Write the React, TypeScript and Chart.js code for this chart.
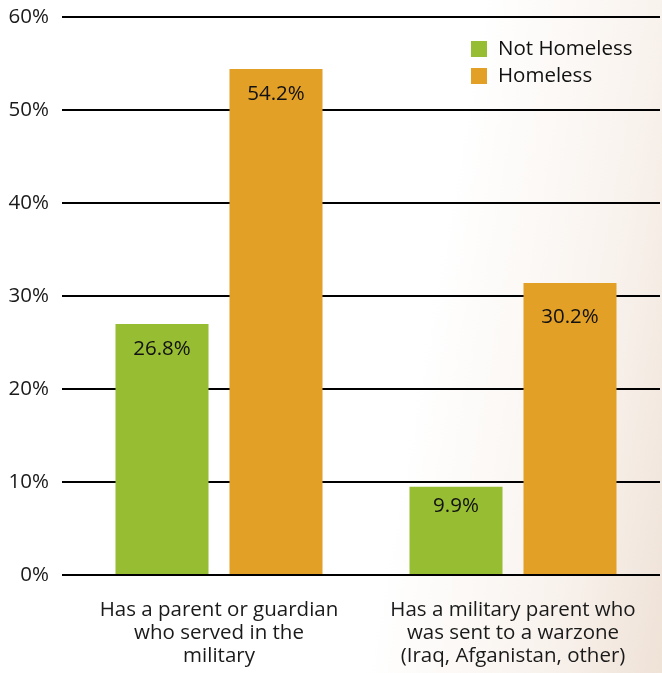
import React, { useEffect, useRef } from "react";
import { Chart, registerables } from "chart.js";

Chart.register(...registerables);

const categories: string[][] = [
  ["Has a parent or guardian", "who served in the", "military"],
  ["Has a military parent who", "was sent to a warzone", "(Iraq, Afganistan, other)"],
];
const seriesNames = ["Not Homeless", "Homeless"];
// bar heights as drawn in the picture
const notHomelessBars = [27.0, 9.5];
const homelessBars = [54.4, 31.4];
// printed value labels
const notHomelessLabels = [26.8, 9.9];
const homelessLabels = [54.2, 30.2];
const yMin = 0;
const yMax = 60;
const yStep = 10;

const GREEN = "#97BD33";
const ORANGE = "#E3A026";
const FONT = "'Open Sans', sans-serif";
const FS = 20.5;

export default function App() {
  const ref = useRef<HTMLCanvasElement | null>(null);

  useEffect(() => {
    if (!ref.current) return;
    const labelSets = [notHomelessLabels, homelessLabels];

    const valueLabels = {
      id: "valueLabels",
      afterDatasetsDraw(chart: any) {
        const ctx = chart.ctx;
        const y = chart.scales.y;
        ctx.save();
        ctx.font = `${FS}px ${FONT}`;
        ctx.fillStyle = "#111";
        ctx.textAlign = "center";
        ctx.textBaseline = "middle";
        chart.data.datasets.forEach((_: any, di: number) => {
          const meta = chart.getDatasetMeta(di);
          meta.data.forEach((bar: any, i: number) => {
            const v = labelSets[di][i];
            ctx.fillText(v.toFixed(1) + "%", bar.x, y.getPixelForValue(v) + 23);
          });
        });
        ctx.restore();
      },
    };

    const legendPlugin = {
      id: "customLegend",
      afterDraw(chart: any) {
        const ctx = chart.ctx;
        const colors = [GREEN, ORANGE];
        ctx.save();
        ctx.font = `${FS}px ${FONT}`;
        ctx.textBaseline = "middle";
        ctx.textAlign = "left";
        seriesNames.forEach((name, i) => {
          const cy = 49 + i * 27;
          ctx.fillStyle = colors[i];
          ctx.fillRect(471, cy - 8, 16, 16);
          ctx.fillStyle = "#111";
          ctx.fillText(name, 498, cy);
        });
        ctx.restore();
      },
    };

    const chart = new Chart(ref.current, {
      type: "bar",
      data: {
        labels: categories,
        datasets: [
          { label: seriesNames[0], data: notHomelessBars, backgroundColor: GREEN },
          { label: seriesNames[1], data: homelessBars, backgroundColor: ORANGE },
        ],
      },
      options: {
        animation: false,
        responsive: true,
        maintainAspectRatio: false,
        layout: { padding: { top: 17, right: 2, left: 0, bottom: 0 } },
        datasets: { bar: { categoryPercentage: 0.7755, barPercentage: 0.816 } },
        plugins: { legend: { display: false }, tooltip: { enabled: false } },
        scales: {
          x: {
            grid: { display: false },
            border: { display: false },
            ticks: {
              font: { family: FONT, size: FS, lineHeight: 1.12 },
              color: "#1a1a1a",
              padding: 16,
              maxRotation: 0,
              autoSkip: false,
            },
            afterFit(scale: any) {
              scale.height = 98;
            },
          },
          y: {
            min: yMin,
            max: yMax,
            border: { display: false },
            grid: { color: "#000", lineWidth: 2, tickLength: 10, drawTicks: true },
            ticks: {
              stepSize: yStep,
              font: { family: FONT, size: FS },
              color: "#1a1a1a",
              padding: 13,
              callback: (v: any) => v + "%",
            },
            afterFit(scale: any) {
              scale.width = 72;
              scale.paddingTop = 0;
              scale.paddingBottom = 0;
            },
          },
        },
      },
      plugins: [valueLabels, legendPlugin],
    });
    return () => chart.destroy();
  }, []);

  return (
    <div
      style={{
        position: "fixed",
        left: 0,
        top: 0,
        width: 662,
        height: 673,
        background:
          "linear-gradient(100deg, #ffffff 0%, #ffffff 62%, #f9f3ee 84%, #efe2d7 100%)",
      }}
    >
      <canvas ref={ref} />
    </div>
  );
}
